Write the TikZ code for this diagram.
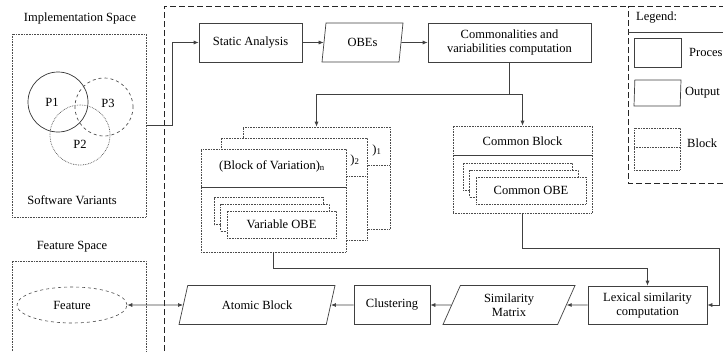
\documentclass[tikz,border=0pt]{standalone}
\usepackage{fontspec}
\setmainfont{Liberation Serif}
\usetikzlibrary{shapes.geometric,arrows.meta}

\begin{document}
\begin{tikzpicture}[x=1pt, y=-1pt,
    font=\fontsize{12.5}{14}\selectfont,
    proc/.style={rectangle, draw=black!75, line width=0.7pt, fill=white,
        inner sep=2pt, align=center},
    outp/.style={trapezium, trapezium stretches body, draw=black!75,
        line width=0.7pt, fill=white, inner sep=1pt, align=center,
        minimum height=39},
    blockbox/.style={rectangle, draw=black!70, densely dotted,
        line width=0.6pt, fill=white},
    obebox/.style={blockbox, minimum width=109, minimum height=27},
    blocksep/.style={draw=black!70, densely dotted, line width=0.6pt},
    spacebox/.style={draw=black!70, densely dotted, line width=0.6pt},
    region/.style={draw=black!85, dash pattern=on 6pt off 3pt, line width=0.7pt},
    link/.style={draw=black!75, line width=0.7pt},
    arrow/.style={link, -{Latex[length=5pt, width=4pt]}},
    txt/.style={inner sep=0pt}
]
    \useasboundingbox (0,0) rectangle (723,351);

    \draw[region] (164,351) -- (164,6) -- (723,6);
    \draw[region] (723,183) -- (628,183) -- (628,6);

    \node[txt] (implt) at (80,18) {Implementation Space};
    \node[spacebox, minimum width=134, minimum height=183] (impl) at (79,125.5) {};
    \draw[draw=black!80, line width=0.7pt] (58,102) circle [radius=30pt];
    \draw[draw=black!70, line width=0.7pt, dashed] (104,107) circle [radius=29pt];
    \draw[draw=black!70, line width=0.7pt, densely dotted] (80,135) circle [radius=30pt];
    \node[txt] (p1) at (52,102) {P1};
    \node[txt] (p3) at (108,103) {P3};
    \node[txt] (p2) at (80,144) {P2};
    \node[txt] (swv) at (72,200) {Software Variants};

    \node[txt] (featt) at (72,247) {Feature Space};
    \draw[spacebox] (12,351) -- (12,261) -- (146,261) -- (146,351);
    \node[ellipse, draw=black!70, dashed, line width=0.6pt,
        minimum width=110, minimum height=36] (feat) at (72,305) {Feature};

    \node[proc, minimum width=103, minimum height=39] (static) at (250.5,42.5) {Static Analysis};
    \node[outp, trapezium left angle=69, trapezium right angle=111,
        minimum width=81] (obe) at (362.5,42.5) {OBEs};
    \node[proc, minimum width=163, minimum height=39] (comm) at (509.5,42.5)
        {Commonalities and\\variabilities computation};

    \node[blockbox, minimum width=147, minimum height=102] (blk1) at (316.5,178) {};
    \draw[blocksep] (243,165) -- (390,165);
    \node[txt] (blk1t) at (377,150) {)\textsubscript{1}};
    \node[blockbox, minimum width=146, minimum height=102] (blk2) at (294,189) {};
    \draw[blocksep] (221,176) -- (367,176);
    \node[txt] (blk2t) at (355,160) {)\textsubscript{2}};
    \node[blockbox, minimum width=145, minimum height=103] (blkn) at (273.5,200.5) {};
    \draw[link, line width=0.6pt] (201,187) -- (346,187);
    \node[txt] (blknt) at (272,166) {(Block of Variation)\textsubscript{n}};
    \node[obebox] (vob1) at (268.5,211) {};
    \node[obebox] (vob2) at (275,217.5) {};
    \node[obebox] (vob3) at (281.5,224.5) {Variable OBE};

    \node[blockbox, minimum width=139, minimum height=87] (cblk) at (522.5,169.5) {};
    \draw[link, line width=0.6pt] (453,155) -- (592,155);
    \node[txt] (cblkt) at (522.5,141) {Common Block};
    \node[obebox] (cob1) at (517.5,176.5) {};
    \node[obebox] (cob2) at (524,183.5) {};
    \node[obebox, minimum width=110] (cob3) at (531,190.5) {Common OBE};

    \node[proc, minimum width=119, minimum height=38] (lex) at (647.5,305)
        {Lexical similarity\\computation};
    \node[outp, trapezium left angle=55, trapezium right angle=125,
        minimum width=132] (sim) at (509,305) {Similarity\\Matrix};
    \node[proc, minimum width=76, minimum height=39] (clus) at (392,305) {Clustering};
    \node[outp, trapezium left angle=51, trapezium right angle=129,
        minimum width=156] (atom) at (257,305) {Atomic Block};

    \draw[arrow] (impl.east) -- ++(26,0) |- (static.west);
    \draw[arrow] (static) -- (obe);
    \draw[arrow] (obe) -- (comm);
    \draw[link] (comm.south) -- ++(0,31.5) coordinate (split);
    \draw[arrow] (split) -| (blk1.north);
    \draw[arrow] (split) -| (cblk.north);
    \draw[arrow] (blkn.south) -- ++(0,16) -| (lex.north);
    \draw[arrow] (cblk.south) |- (719,248) |- (lex.east);
    \draw[arrow] (lex) -- (sim);
    \draw[arrow] (sim) -- (clus);
    \draw[arrow] (clus) -- (atom);
    \draw[arrow, {Latex[length=5pt, width=4pt]}-{Latex[length=5pt, width=4pt]}] (feat) -- (atom);

    \node[txt, anchor=west] (legt) at (636,18) {Legend:};
    \draw[link] (628,32) -- (723,32);
    \node[proc, minimum width=47, minimum height=29] (lproc) at (657.5,52.5) {};
    \node[txt, anchor=west] (lproct) at (689,52.5) {Proces};
    \node[outp, trapezium left angle=67, trapezium right angle=113,
        minimum width=47, minimum height=26] (lout) at (657.5,93) {};
    \node[txt, anchor=west] (loutt) at (685,93) {Output};
    \node[blockbox, minimum width=46, minimum height=42] (lblk) at (657,149) {};
    \draw[blocksep] (634,147) -- (680,147);
    \node[txt, anchor=west] (lblkt) at (687,143) {Block};
\end{tikzpicture}
\end{document}
